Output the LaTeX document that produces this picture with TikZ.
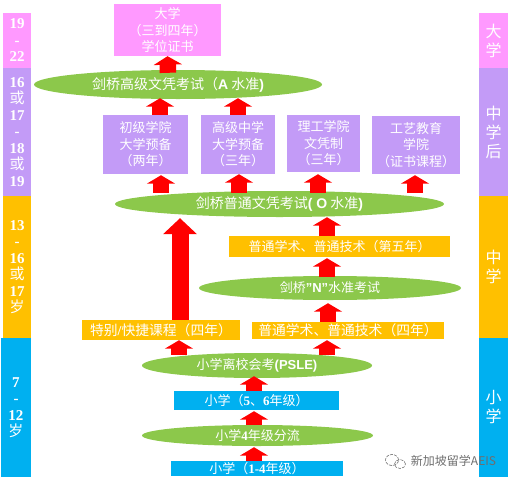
\documentclass[tikz,border=0pt]{standalone}
\usepackage{fontspec}
\usepackage{xcolor}
\usetikzlibrary{arrows.meta,shapes.geometric}
\newfontfamily\cjk{Noto Sans CJK SC}
\newfontfamily\numfont{Liberation Serif}
\newfontfamily\latfont{Liberation Sans}
\definecolor{pinkfill}{HTML}{FF99FF}
\definecolor{purplefill}{HTML}{C39BF7}
\definecolor{amberfill}{HTML}{FFC000}
\definecolor{bluefill}{HTML}{00B0F0}
\definecolor{greenfill}{HTML}{8CC84B}
\definecolor{markgray}{HTML}{6E6E6E}
\newcommand{\agenum}[1]{{\numfont\bfseries #1}}
\newcommand{\latbold}[1]{{\latfont\bfseries #1}}
\tikzset{
  agebar/.style={minimum width=28pt,inner sep=0pt,align=center,text=white,
                 font=\cjk\fontsize{15}{16.5}\selectfont},
  stagebar/.style={minimum width=29pt,inner sep=0pt,align=center,text=white,
                   font=\cjk\fontsize{16}{19}\selectfont},
  planbox/.style={inner sep=0pt,align=center,text=white,
                  font=\cjk\fontsize{13}{16.5}\selectfont},
  planwide/.style={planbox,font=\cjk\fontsize{13.8}{16.5}\selectfont},
  exam/.style={ellipse,fill=greenfill,inner sep=0pt,align=center,text=white,
               font=\cjk\fontsize{13}{16}\selectfont},
  examwide/.style={exam,font=\cjk\fontsize{14}{16}\selectfont},
  blockarr/.style={draw=red,line width=16.5pt,-{Triangle[length=8.5pt,width=28pt]}},
  bigarr/.style={draw=red,line width=17pt,-{Triangle[length=16pt,width=33pt]}}
}
\begin{document}
\begin{tikzpicture}[x=1pt,y=-1pt]
  \useasboundingbox (0,0) rectangle (512,485);

  % age column on the left
  \node[agebar,fill=pinkfill,minimum height=55pt] (agetop) at (17,40.5)
    {\agenum{19}\\\agenum{-}\\\agenum{22}};
  \node[agebar,fill=purplefill,minimum height=128pt] (agepost) at (17,132)
    {\agenum{16}\\或\\\agenum{17}\\\agenum{-}\\\agenum{18}\\或\\\agenum{19}};
  \node[agebar,fill=amberfill,minimum height=142pt] (agesec) at (17,267)
    {\agenum{13}\\\agenum{-}\\\agenum{16}\\或\\\agenum{17}\\岁};
  \node[agebar,fill=bluefill,minimum width=30pt,minimum height=139pt] (agepri) at (16,407.5)
    {\agenum{7}\\\agenum{-}\\\agenum{12}\\岁};

  % stage column on the right
  \node[stagebar,fill=pinkfill,minimum height=55pt] (stagetop) at (493.5,40.5) {大\\学};
  \node[stagebar,fill=purplefill,minimum height=128pt] (stagepost) at (493.5,132) {中\\学\\后};
  \node[stagebar,fill=amberfill,minimum height=142pt] (stagesec) at (493.5,267) {中\\学};
  \node[stagebar,fill=bluefill,minimum height=139pt] (stagepri) at (493.5,407.5) {小\\学};

  % upper levels
  \node[planbox,fill=pinkfill,minimum width=107pt,minimum height=52pt] (univ) at (167.5,30)
    {大学\\（三到四年）\\学位证书};
  \node[examwide,minimum width=288pt,minimum height=29pt] (ellA) at (178,84.5)
    {剑桥高级文凭考试（\latbold{A} 水准\latbold{)}};
  \node[planbox,fill=purplefill,minimum width=85pt,minimum height=59pt] (jc) at (145.5,144.5)
    {初级学院\\大学预备\\（两年）};
  \node[planbox,fill=purplefill,minimum width=74pt,minimum height=59pt] (hs) at (238,144.5)
    {高级中学\\大学预备\\（三年）};
  \node[planbox,fill=purplefill,minimum width=73pt,minimum height=57pt] (poly) at (323.5,143.5)
    {理工学院\\文凭制\\（三年）};
  \node[planbox,fill=purplefill,minimum width=88pt,minimum height=58pt] (ite) at (416,145)
    {工艺教育\\学院\\（证书课程）};
  \node[examwide,minimum width=329pt,minimum height=26pt] (ellO) at (279.5,204)
    {剑桥普通文凭考试\latbold{( O} 水准\latbold{)}};

  % secondary levels
  \node[planbox,fill=amberfill,minimum width=221pt,minimum height=21pt] (gfive) at (339.5,246.5)
    {普通学术、普通技术（第五年）};
  \node[exam,minimum width=262pt,minimum height=24pt] (ellN) at (330,288)
    {剑桥\latbold{”N”}水准考试};
  \node[planwide,fill=amberfill,minimum width=158pt,minimum height=20pt] (spec) at (161,330)
    {特别\agenum{/}快捷课程（四年）};
  \node[planwide,fill=amberfill,minimum width=192pt,minimum height=17pt] (gfour) at (348,330.5)
    {普通学术、普通技术（四年）};

  % primary levels
  \node[exam,minimum width=230pt,minimum height=25pt] (ellP) at (257,365.5)
    {小学离校会考\latbold{(PSLE)}};
  \node[planbox,fill=bluefill,minimum width=165pt,minimum height=19pt] (prifive) at (256.5,400.5)
    {小学（\agenum{5}、\agenum{6}年级）};
  \node[exam,minimum width=231pt,minimum height=21pt] (ellF) at (257.5,435.5)
    {小学\agenum{4}年级分流};
  \node[planbox,fill=bluefill,minimum width=172pt,minimum height=15pt] (prione) at (257,468.5)
    {小学（\agenum{1-4}年级）};

  % block arrows
  \draw[blockarr] ([xshift=-10pt,yshift=-3pt]ellA.north) -- (univ.south);
  \draw[blockarr] ([xshift=14.5pt]jc.north) -- ([xshift=-18pt,yshift=1pt]ellA.south);
  \draw[blockarr] (hs.north) -- ([xshift=60pt,yshift=1pt]ellA.south);
  \draw[blockarr] ([xshift=-118.5pt,yshift=-2pt]ellO.north) -- ([xshift=15.5pt,yshift=-1pt]jc.south);
  \draw[blockarr] ([xshift=-40.5pt,yshift=-2pt]ellO.north) -- ([xshift=1pt]hs.south);
  \draw[blockarr] ([xshift=38.5pt,yshift=-2pt]ellO.north) -- ([xshift=-5.5pt,yshift=-2pt]poly.south);
  \draw[blockarr] ([xshift=135.5pt,yshift=-2pt]ellO.north) -- ([xshift=-1pt,yshift=-1pt]ite.south);
  \draw[bigarr] ([xshift=19pt]spec.north) -- ([xshift=-99.5pt,yshift=-1pt]ellO.south);
  \draw[blockarr] ([xshift=-12.5pt]gfive.north) -- ([xshift=47.5pt]ellO.south);
  \draw[blockarr] ([xshift=-3pt,yshift=-1pt]ellN.north) -- ([xshift=-12.5pt,yshift=-1pt]gfive.south);
  \draw[blockarr] ([xshift=-20pt]gfour.north) -- ([xshift=-2pt,yshift=-3pt]ellN.south);
  \draw[blockarr] ([xshift=70pt,yshift=-2pt]ellP.north) -- ([xshift=-21pt,yshift=-1pt]gfour.south);
  \draw[blockarr] ([xshift=-78pt,yshift=-2pt]ellP.north) -- ([xshift=18pt]spec.south);
  \draw[blockarr] ([xshift=-2.5pt]prifive.north) -- ([xshift=-3pt,yshift=2pt]ellP.south);
  \draw[blockarr] ([xshift=-3.5pt]ellF.north) -- ([xshift=-2.5pt,yshift=-1pt]prifive.south);
  \draw[blockarr] ([xshift=-3pt]prione.north) -- ([xshift=-3.5pt,yshift=-1pt]ellF.south);

  % watermark
  \draw[markgray,line width=0.6pt,dash pattern=on 3pt off 1.2pt] (392,460) ellipse (6.5pt and 5.5pt);
  \draw[markgray,line width=0.6pt,dash pattern=on 3pt off 1.2pt] (400,464) ellipse (5.5pt and 4.5pt);
  \node[inner sep=0pt,text=markgray,font=\cjk\fontsize{12}{13}\selectfont] (markname) at (453.5,461) {新加坡留学AEIS};
\end{tikzpicture}
\end{document}
